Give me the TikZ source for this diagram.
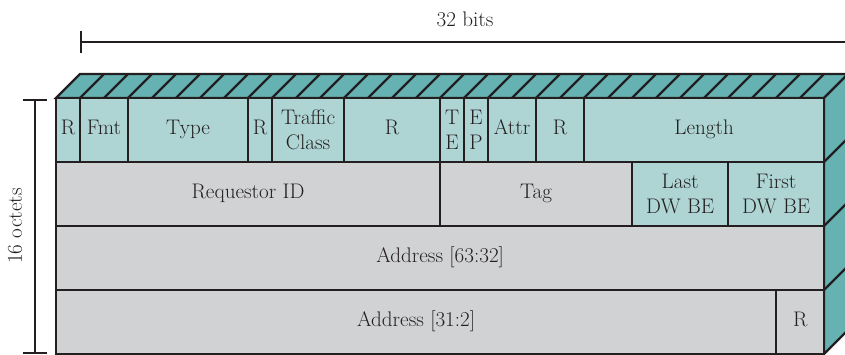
\documentclass[tikz,border=0pt]{standalone}
\usetikzlibrary{arrows.meta}

\definecolor{tealtop}{RGB}{102,178,178}
\definecolor{tealcell}{RGB}{174,212,212}
\definecolor{greycell}{RGB}{209,210,212}
\definecolor{inkline}{RGB}{35,31,32}

\tikzset{
  field/.style={draw=inkline, line width=1.6pt, inner sep=0pt, outer sep=0pt,
    anchor=north west, minimum height=1.6cm, align=center, text=inkline},
  oneline/.style={text height=0.683em, text depth=0pt},
  bitw/.style={minimum width=#1*0.6cm},
  hdr/.style={field, oneline, fill=tealcell},
  hdrtwo/.style={field, fill=tealcell},
  dat/.style={field, oneline, fill=greycell},
  face/.style={draw=inkline, line width=1.6pt, fill=tealtop},
  edge/.style={draw=inkline, line width=1.6pt},
}

\begin{document}
\begin{tikzpicture}[x=0.025cm, y=-0.025cm, font=\fontsize{15}{17.5}\selectfont]
\useasboundingbox (0,0) rectangle (845,354);

% Top face, one stripe per bit
\draw[face] (56,98) -- (80,74) -- (848,74) -- (824,98) -- cycle;
\foreach \i in {1,...,31}
  \draw[edge] (56+24*\i,98) -- (80+24*\i,74);

% Side face
\draw[face] (824,98) -- (848,74) -- (848,330) -- (824,354) -- cycle;
\foreach \y in {162,226,290}
  \draw[edge] (824,\y) -- (848,\y-24);

% Row 1
\node[hdr, bitw=1] (rsv1) at (56,98) {R};
\node[hdr, bitw=2] (fmt) at (rsv1.north east) {Fmt};
\node[hdr, bitw=5] (type) at (fmt.north east) {Type};
\node[hdr, bitw=1] (rsv2) at (type.north east) {R};
\node[hdrtwo, bitw=3] (tc) at (rsv2.north east) {Traffic\\Class};
\node[hdr, bitw=4] (rsv3) at (tc.north east) {R};
\node[hdrtwo, bitw=1] (td) at (rsv3.north east) {T\\E};
\node[hdrtwo, bitw=1] (ep) at (td.north east) {E\\P};
\node[hdr, bitw=2] (attr) at (ep.north east) {Attr};
\node[hdr, bitw=2] (rsv4) at (attr.north east) {R};
\node[hdr, bitw=10] (len) at (rsv4.north east) {Length};

% Row 2
\node[dat, bitw=16] (reqid) at (rsv1.south west) {Requestor ID};
\node[dat, bitw=8] (tag) at (reqid.north east) {Tag};
\node[hdrtwo, bitw=4] (lastbe) at (tag.north east) {Last\\DW BE};
\node[hdrtwo, bitw=4] (firstbe) at (lastbe.north east) {First\\DW BE};

% Rows 3 and 4
\node[dat, bitw=32] (addrhi) at (reqid.south west) {Address [63:32]};
\node[dat, bitw=30] (addrlo) at (addrhi.south west) {Address [31:2]};
\node[dat, bitw=2] (rsv5) at (addrlo.north east) {R};

% Dimensions
\coordinate (bitsL) at (80,42);
\coordinate (bitsR) at (848,42);
\draw[edge, {Bar[width=0.55cm]}-{Bar[width=0.55cm]}] (bitsL) -- (bitsR);
\node[text=inkline] (bitslbl) at (465,19) {32 bits};

\coordinate (octT) at (35,99);
\coordinate (octB) at (35,354);
\draw[edge, {Bar[width=0.6cm]}-{Bar[width=0.6cm]}] (octT) -- (octB);
\node[rotate=90, text=inkline] (octlbl) at (15,226) {16 octets};

\end{tikzpicture}
\end{document}
